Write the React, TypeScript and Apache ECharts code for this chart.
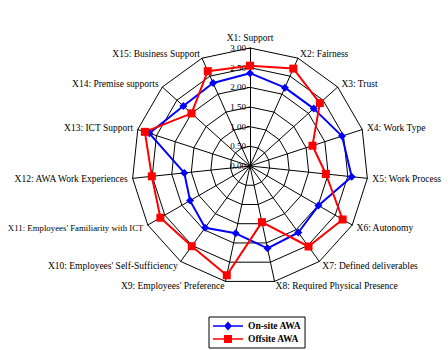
import React, { useEffect, useRef } from "react";
import * as echarts from "echarts";

const categories = [
  "X1: Support",
  "X2: Fairness",
  "X3: Trust",
  "X4: Work Type",
  "X5: Work Process",
  "X6: Autonomy",
  "X7: Defined deliverables",
  "X8: Required Physical Presence",
  "X9: Employees' Preference",
  "X10: Employees' Self-Sufficiency",
  "X11: Employees' Familiarity with ICT",
  "X12: AWA Work Experiences",
  "X13: ICT Support",
  "X14: Premise supports",
  "X15: Business Support",
];

const onSite = [2.36, 2.18, 2.18, 2.46, 2.6, 2.01, 2.09, 2.14, 1.75, 1.94, 1.76, 1.68, 2.69, 2.28, 2.31];
const offSite = [2.55, 2.71, 2.39, 1.67, 1.94, 2.72, 2.53, 1.46, 2.84, 2.52, 2.63, 2.51, 2.81, 2.0, 2.64];

const seriesNames = ["On-site AWA", "Offsite AWA"];
const axisMin = 0;
const axisMax = 3;
const ringCount = 6;

const serif = "'Liberation Serif', 'DejaVu Serif', serif";

// ECharts radar runs counter-clockwise; reorder so the axes run clockwise from the top.
function clockwise<T>(arr: T[]): T[] {
  return [arr[0], ...arr.slice(1).reverse()];
}

export default function App() {
  const ref = useRef<HTMLDivElement>(null);
  useEffect(() => {
    if (!ref.current) return;
    const chart = echarts.init(ref.current, undefined, { renderer: "svg" });
    const indicator = clockwise(categories).map((name, i) =>
      i === 0
        ? {
            name,
            min: axisMin,
            max: axisMax,
            axisLabel: {
              show: true,
              formatter: (v: number) => v.toFixed(2),
              color: "#000",
              fontFamily: serif,
              fontSize: 9,
              margin: 4,
            },
            axisTick: { show: true, length: 3, lineStyle: { color: "#000" } },
          }
        : { name, min: axisMin, max: axisMax }
    );
    chart.setOption({
      animation: false,
      backgroundColor: "#fff",
      legend: {
        orient: "vertical",
        left: 209,
        top: 317,
        padding: [4, 4, 4, 4],
        itemGap: 3,
        itemWidth: 30,
        itemHeight: 9,
        borderColor: "#000",
        borderWidth: 1,
        textStyle: { fontFamily: serif, fontSize: 9.5, fontWeight: "bold", color: "#000" },
        data: [
          { name: seriesNames[0], icon: "path://M0,4.2h30v1.6h-30z M15,0.5L19,5L15,9.5L11,5z" },
          { name: seriesNames[1], icon: "path://M0,4.2h30v1.6h-30z M11,1h8v8h-8z" },
        ],
      },
      radar: {
        center: [250, 166],
        radius: 118,
        startAngle: 90,
        shape: "polygon",
        splitNumber: ringCount,
        nameGap: 5,
        axisName: {
          color: "#000",
          fontFamily: serif,
          fontSize: 9.5,
          formatter: (name: string) => (name.length > 32 ? `{s|${name}}` : name),
          rich: { s: { fontFamily: serif, fontSize: 8.8, color: "#000" } },
        },
        axisLine: { lineStyle: { color: "#000", width: 1 } },
        splitLine: { lineStyle: { color: "#000", width: 1 } },
        splitArea: { show: false },
        axisLabel: { show: false },
        axisTick: { show: false },
        indicator,
      },
      series: [
        {
          type: "radar",
          data: [
            {
              name: seriesNames[0],
              value: clockwise(onSite),
              symbol: "diamond",
              symbolSize: 8,
              itemStyle: { color: "#0000ff" },
              lineStyle: { color: "#0000ff", width: 2 },
            },
            {
              name: seriesNames[1],
              value: clockwise(offSite),
              symbol: "rect",
              symbolSize: 8,
              itemStyle: { color: "#ff0000" },
              lineStyle: { color: "#ff0000", width: 2 },
            },
          ],
        },
      ],
    });
    return () => chart.dispose();
  }, []);
  return <div ref={ref} style={{ position: "fixed", left: 0, top: 0, width: 448, height: 350 }} />;
}
